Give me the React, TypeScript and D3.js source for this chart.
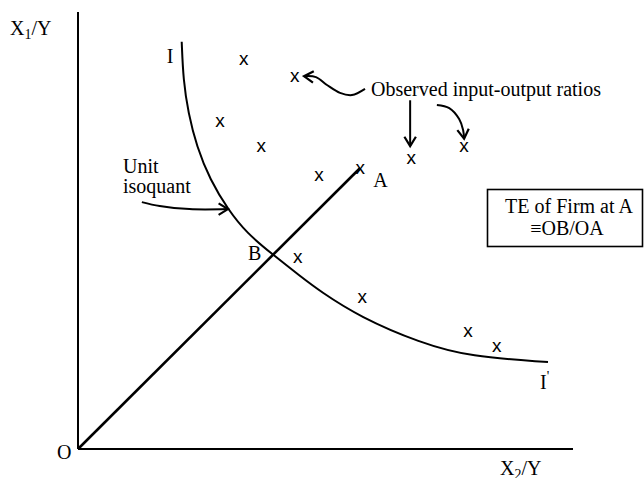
import React from "react";
import * as d3 from "d3";

// input-output ratios (x = X2/Y, y = X1/Y)
const obsX = [3.35, 4.38, 2.87, 3.7, 4.87, 5.7, 6.73, 7.8, 4.44, 5.74, 7.88, 8.46];
const obsY = [8.9, 8.51, 7.48, 6.91, 6.25, 6.41, 6.64, 6.91, 4.37, 3.46, 2.68, 2.33];

// unit isoquant I-I'
const isoX = [2.095, 2.127, 2.228, 2.398, 2.667, 3.036, 3.408, 3.945, 4.485, 4.889, 5.697, 6.909, 7.919, 9.495];
const isoY = [9.32, 8.44, 7.69, 6.92, 6.16, 5.47, 4.94, 4.44, 3.96, 3.61, 3.02, 2.43, 2.11, 1.99];

// firm A and intersection B
const firmA = { x: 5.7, y: 6.43 };
const pointB = { x: 3.96, y: 4.46 };

// annotation arrows (same units)
const arrowObs = [
  [5.798, 8.24], [5.535, 8.1], [5.293, 8.15], [5.03, 8.33], [4.808, 8.51], [4.566, 8.53],
];
const arrowDown = [[6.71, 7.98], [6.71, 6.93]];
const arrowCurve = [[7.25, 7.87], [7.5, 7.8], [7.7, 7.55], [7.78, 7.3], [7.8, 7.1]];
const arrowUnit = [[1.29, 5.65], [1.65, 5.56], [2.25, 5.49], [3.03, 5.49]];

const W = 644;
const H = 478;
const FONT = "'Liberation Serif', 'Times New Roman', serif";

const x = d3.scaleLinear().domain([0, 10]).range([78, 573]);
const y = d3.scaleLinear().domain([0, 10]).range([449, 12]);

const curveLine = d3
  .line<number[]>()
  .x((d) => x(d[0]))
  .y((d) => y(d[1]))
  .curve(d3.curveCatmullRom.alpha(0.5));

const isoLine = d3
  .line<number[]>()
  .x((d) => x(d[0]))
  .y((d) => y(d[1]))
  .curve(d3.curveBasis);

function arrowHead(pts: number[][]) {
  const [x1, y1] = [x(pts[pts.length - 2][0]), y(pts[pts.length - 2][1])];
  const [x2, y2] = [x(pts[pts.length - 1][0]), y(pts[pts.length - 1][1])];
  const a = Math.atan2(y2 - y1, x2 - x1);
  const len = 11;
  const spread = 0.55;
  const p1 = [x2 - len * Math.cos(a - spread), y2 - len * Math.sin(a - spread)];
  const p2 = [x2 - len * Math.cos(a + spread), y2 - len * Math.sin(a + spread)];
  return `M${p1[0]},${p1[1]}L${x2},${y2}L${p2[0]},${p2[1]}`;
}

const Arrow = ({ pts }: { pts: number[][] }) => (
  <g fill="none" stroke="#000" strokeWidth={2}>
    <path d={curveLine(pts) || ""} />
    <path d={arrowHead(pts)} strokeWidth={2.2} />
  </g>
);

export default function App() {
  const iso = isoX.map((v, i) => [v, isoY[i]]);
  const obs = obsX.map((v, i) => ({ x: v, y: obsY[i] }));

  return (
    <svg
      width={W}
      height={H}
      style={{ position: "absolute", left: 0, top: 0, background: "#fff" }}
      fontFamily={FONT}
    >
      {/* axes */}
      <line x1={x(0)} x2={x(0)} y1={y(10)} y2={y(0)} stroke="#000" strokeWidth={2} />
      <line x1={x(0)} x2={x(10)} y1={y(0)} y2={y(0)} stroke="#000" strokeWidth={2} />

      {/* ray O-A */}
      <line
        x1={x(0)}
        y1={y(0)}
        x2={x(firmA.x)}
        y2={y(firmA.y)}
        stroke="#000"
        strokeWidth={2.6}
      />

      {/* isoquant */}
      <path d={isoLine(iso) || ""} fill="none" stroke="#000" strokeWidth={2} />

      {/* observations */}
      {obs.map((d, i) => (
        <text
          key={i}
          x={x(d.x)}
          y={y(d.y) + 5}
          textAnchor="middle"
          fontFamily="'Liberation Sans', Arial, sans-serif"
          fontSize={19}
        >
          x
        </text>
      ))}

      {/* arrows */}
      <Arrow pts={arrowObs} />
      <Arrow pts={arrowDown} />
      <Arrow pts={arrowCurve} />
      <Arrow pts={arrowUnit} />

      {/* labels */}
      <g fontSize={20} fill="#000">
        <text x={10} y={35}>
          X<tspan fontSize={14} dy={4}>1</tspan>
          <tspan dy={-4}>/Y</tspan>
        </text>
        <text x={500} y={475}>
          X<tspan fontSize={14} dy={4}>2</tspan>
          <tspan dy={-4}>/Y</tspan>
        </text>
        <text x={x(0) - 21} y={y(0) + 10}>O</text>
        <text x={x(isoX[0]) - 15} y={y(isoY[0]) + 21}>I</text>
        <text x={x(isoX[isoX.length - 1]) - 8} y={y(isoY[isoY.length - 1]) + 27}>
          I<tspan fontSize={14} dy={-8}>'</tspan>
        </text>
        <text x={x(firmA.x) + 13} y={y(firmA.y) + 19}>A</text>
        <text x={x(pointB.x) - 26} y={y(pointB.y) + 6}>B</text>
        <text x={371} y={96}>Observed input-output ratios</text>
        <text x={123} y={173}>Unit</text>
        <text x={123} y={193}>isoquant</text>
      </g>

      {/* TE box */}
      <rect x={487.5} y={189.5} width={155} height={57} fill="none" stroke="#000" strokeWidth={1.6} />
      <g fontSize={20} textAnchor="middle">
        <text x={569} y={213}>TE of Firm at A</text>
        <text x={567} y={235}>≡OB/OA</text>
      </g>
    </svg>
  );
}
